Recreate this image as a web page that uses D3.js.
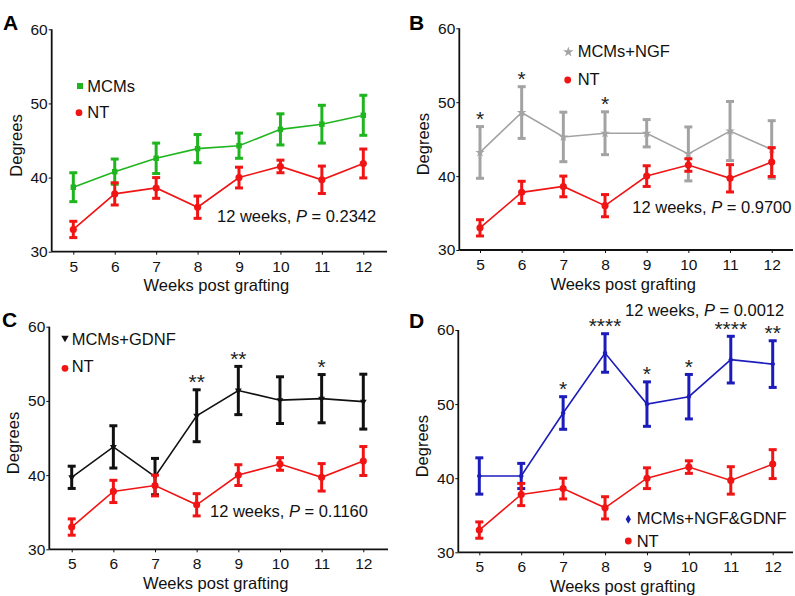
<!DOCTYPE html>
<html><head><meta charset="utf-8">
<script src="https://cdn.jsdelivr.net/npm/d3@7"></script>
<style>body{margin:0;background:#fff}svg{display:block}text{font-family:"Liberation Sans",Arial,sans-serif}</style>
</head><body>
<svg id="c" width="795" height="596"></svg>
<script>
const weeks = [5,6,7,8,9,10,11,12];
const yTicks = [30,40,50,60];
const ntMean = [33.0,37.8,38.6,36.0,40.0,41.5,39.7,41.9];
const ntErr  = [1.1,1.5,1.4,1.5,1.4,0.85,1.85,1.95];
const mcmsMean = [38.7,40.8,42.6,43.9,44.3,46.5,47.2,48.4];
const mcmsErr  = [1.95,1.7,2.05,1.9,1.7,2.1,2.55,2.7];
const ngfMean = [43.2,48.6,45.3,45.8,45.8,43.0,46.1,43.6];
const ngfErr  = [3.5,3.5,3.35,2.9,1.85,3.65,4.0,3.9];
const gdnfMean = [39.7,43.8,39.8,48.0,51.4,50.1,50.3,49.9];
const gdnfErr  = [1.5,2.85,2.45,3.5,3.25,3.15,3.25,3.7];
const bothMean = [40.3,40.3,48.8,56.9,50.0,51.0,56.0,55.4];
const bothErr  = [2.45,1.7,2.2,2.6,3.0,3.0,3.15,3.15];
const ngfStars  = ["*","*","","*","","","",""];
const gdnfStars = ["","","","**","**","","*",""];
const bothStars = ["","","*","****","*","*","****","**"];
const pTexts = ["0.2342","0.9700","0.1160","0.0012"];
const panelLetters = ["A","B","C","D"];
const seriesNames = ["MCMs","MCMs+NGF","MCMs+GDNF","MCMs+NGF&GDNF"];

const RED = "#f01414";
const svg = d3.select("#c");

const panels = [
  {letter:panelLetters[0], ax:51.7, top:29.3, bot:251.7, x5:73.3, x12:363.3, right:387,
   mean:mcmsMean, err:mcmsErr, stars:null, color:"#1fb51f", sym:d3.symbolSquare, symSize:30, name:seriesNames[0], p:pTexts[0],
   letterPos:[3,30], pPos:[217,221.7],
   leg:[[80,86,87.3,91.7],[79,112.7,87.3,118.3]]},
  {letter:panelLetters[1], ax:459.3, top:28.3, bot:250, x5:480, x12:771.7, right:793,
   mean:ngfMean, err:ngfErr, stars:ngfStars, color:"#a3a3a3", sym:d3.symbolStar, symSize:28, name:seriesNames[1], p:pTexts[1],
   letterPos:[409,30], pPos:[632.3,213.3],
   leg:[[568.3,52,577.7,56.7],[567.7,80,577.7,85]]},
  {letter:panelLetters[2], ax:49.3, top:326.7, bot:549.3, x5:71.7, x12:363.3, right:388,
   mean:gdnfMean, err:gdnfErr, stars:gdnfStars, color:"#111111", sym:d3.symbolTriangle, symSize:20, flip:true, name:seriesNames[2], p:pTexts[2],
   letterPos:[2,327], pPos:[210,516.7],
   leg:[[65,338,71.7,345],[65,368.3,71.7,371.7]]},
  {letter:panelLetters[3], ax:458.3, top:330, bot:552.3, x5:479.3, x12:772.7, right:793,
   mean:bothMean, err:bothErr, stars:bothStars, color:"#1c1cbc", sym:d3.symbolDiamond, symSize:20, name:seriesNames[3], p:pTexts[3],
   letterPos:[409,328], pPos:[625,315.5],
   leg:[[628.3,519.3,636.7,523.8],[628.3,541,636.7,547]]}
];

function drawSeries(g, x, y, mean, err, color, sym, symSize, flip){
  const data = weeks.map((w,i)=>({w, m:mean[i], e:err[i]}));
  g.append("path").datum(data)
    .attr("fill","none").attr("stroke",color).attr("stroke-width",1.6)
    .attr("d", d3.line().x(d=>x(d.w)).y(d=>y(d.m)));
  const eb = g.append("g").attr("stroke",color).attr("stroke-width",3).attr("fill","none");
  data.forEach(d=>{
    const cx = x(d.w), t = y(d.m+d.e), b = y(d.m-d.e);
    eb.append("line").attr("x1",cx).attr("x2",cx).attr("y1",t).attr("y2",b);
    eb.append("line").attr("x1",cx-4).attr("x2",cx+4).attr("y1",t).attr("y2",t);
    eb.append("line").attr("x1",cx-4).attr("x2",cx+4).attr("y1",b).attr("y2",b);
  });
  const s = d3.symbol().type(sym).size(symSize);
  g.append("g").selectAll("path").data(data).join("path")
    .attr("d", s).attr("fill", color)
    .attr("transform", d=>`translate(${x(d.w)},${y(d.m)})${flip?" rotate(180)":""}`);
}

panels.forEach(P=>{
  const g = svg.append("g");
  const x = d3.scaleLinear().domain([5,12]).range([P.x5,P.x12]);
  const y = d3.scaleLinear().domain([30,60]).range([P.bot,P.top]);

  drawSeries(g, x, y, P.mean, P.err, P.color, P.sym, P.symSize, P.flip);
  drawSeries(g, x, y, ntMean, ntErr, RED, d3.symbolCircle, 40, false);

  const xa = g.append("g").attr("transform",`translate(0,${P.bot})`)
    .call(d3.axisBottom(x).tickValues(weeks).tickFormat(d3.format("d")).tickSize(3).tickPadding(6));
  xa.select(".domain").remove();
  xa.selectAll("text").attr("font-size",15.5).attr("fill","#111").attr("font-family","Liberation Sans, Arial, sans-serif");
  xa.selectAll("line").attr("stroke","#111");
  g.append("line").attr("x1",P.ax).attr("x2",P.right).attr("y1",P.bot).attr("y2",P.bot)
    .attr("stroke","#111").attr("stroke-width",1.8);

  const ya = g.append("g").attr("transform",`translate(${P.ax},0)`)
    .call(d3.axisLeft(y).tickValues(yTicks).tickSize(3).tickPadding(1));
  ya.select(".domain").remove();
  ya.selectAll("text").attr("font-size",15.5).attr("fill","#111").attr("font-family","Liberation Sans, Arial, sans-serif");
  ya.selectAll("line").attr("stroke","#111");
  g.append("line").attr("x1",P.ax).attr("x2",P.ax).attr("y1",P.top).attr("y2",P.bot)
    .attr("stroke","#111").attr("stroke-width",1.8);

  g.append("text").attr("x",(P.ax+P.right)/2 - 3).attr("y",P.bot+39.5)
    .attr("text-anchor","middle").attr("font-size",16.5).attr("fill","#111").text("Weeks post grafting");
  g.append("text").attr("transform",`translate(${P.ax-30},${(P.top+P.bot)/2+5}) rotate(-90)`)
    .attr("text-anchor","middle").attr("font-size",16.5).attr("fill","#111").text("Degrees");

  g.append("text").attr("x",P.letterPos[0]).attr("y",P.letterPos[1])
    .attr("font-size",21).attr("font-weight","bold").attr("fill","#000").text(P.letter);

  const pt = g.append("text").attr("x",P.pPos[0]).attr("y",P.pPos[1]).attr("font-size",16.5).attr("fill","#111");
  pt.append("tspan").text("12 weeks, ");
  pt.append("tspan").attr("font-style","italic").text("P");
  pt.append("tspan").text(" = " + P.p);

  if(P.stars){
    P.stars.forEach((s,i)=>{
      if(!s) return;
      g.append("text").attr("x",x(weeks[i])).attr("y",y(P.mean[i]+P.err[i])-0.5)
        .attr("text-anchor","middle").attr("font-size",21).attr("fill","#222").text(s);
    });
  }

  const L = P.leg;
  g.append("path").attr("d",d3.symbol().type(P.sym).size(P.symSize*1.2)())
    .attr("fill",P.color).attr("transform",`translate(${L[0][0]},${L[0][1]})${P.flip?" rotate(180)":""}`);
  g.append("text").attr("x",L[0][2]).attr("y",L[0][3]).attr("font-size",16.5).attr("fill","#111").text(P.name);
  g.append("path").attr("d",d3.symbol().type(d3.symbolCircle).size(36)())
    .attr("fill",RED).attr("transform",`translate(${L[1][0]},${L[1][1]})`);
  g.append("text").attr("x",L[1][2]).attr("y",L[1][3]).attr("font-size",16.5).attr("fill","#111").text("NT");
});
</script>
</body></html>
